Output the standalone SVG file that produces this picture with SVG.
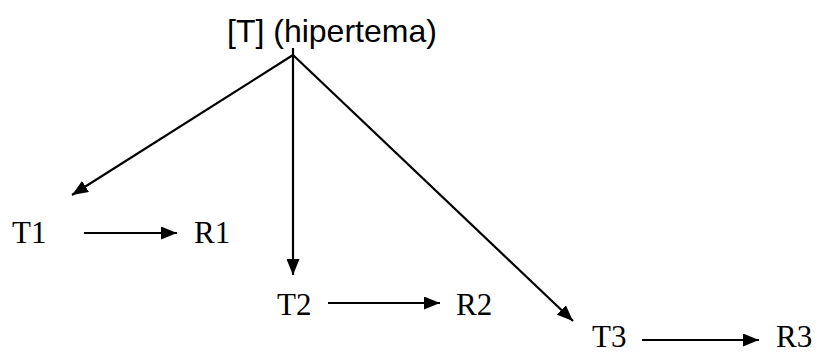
<svg xmlns="http://www.w3.org/2000/svg" width="819" height="354" viewBox="0 0 819 354">
<style>
.sans{font-family:"Liberation Sans",Arial,sans-serif;font-size:32px;fill:#000}
.serif{font-family:"Liberation Serif","Times New Roman",serif;font-size:31px;fill:#000}
.edge{stroke:#000;stroke-width:2.2;fill:none;marker-end:url(#ah)}
</style>
<defs>
<marker id="ah" markerUnits="userSpaceOnUse" markerWidth="16" markerHeight="13" refX="16" refY="6.5" orient="auto">
<path d="M0,0 L16,6.5 L0,13 z" fill="#000"/>
</marker>
</defs>
<rect width="819" height="354" fill="#fff"/>
<g id="connectors">
<line class="edge" x1="293" y1="55" x2="72" y2="195"/>
<line class="edge" x1="293" y1="48" x2="293" y2="275"/>
<line class="edge" x1="293" y1="55" x2="573" y2="321"/>
<line class="edge" x1="84" y1="233" x2="177" y2="233"/>
<line class="edge" x1="328" y1="303" x2="440" y2="303"/>
<line class="edge" x1="642" y1="340" x2="759" y2="340"/>
</g>
<g id="hypertheme"><text class="sans" x="227" y="42">[T] (hipertema)</text></g>
<g id="T1"><text class="serif" x="12" y="243">T1</text></g>
<g id="R1"><text class="serif" x="194" y="243">R1</text></g>
<g id="T2"><text class="serif" x="277" y="315">T2</text></g>
<g id="R2"><text class="serif" x="456" y="315">R2</text></g>
<g id="T3"><text class="serif" x="592" y="347">T3</text></g>
<g id="R3"><text class="serif" x="776" y="347">R3</text></g>
</svg>
